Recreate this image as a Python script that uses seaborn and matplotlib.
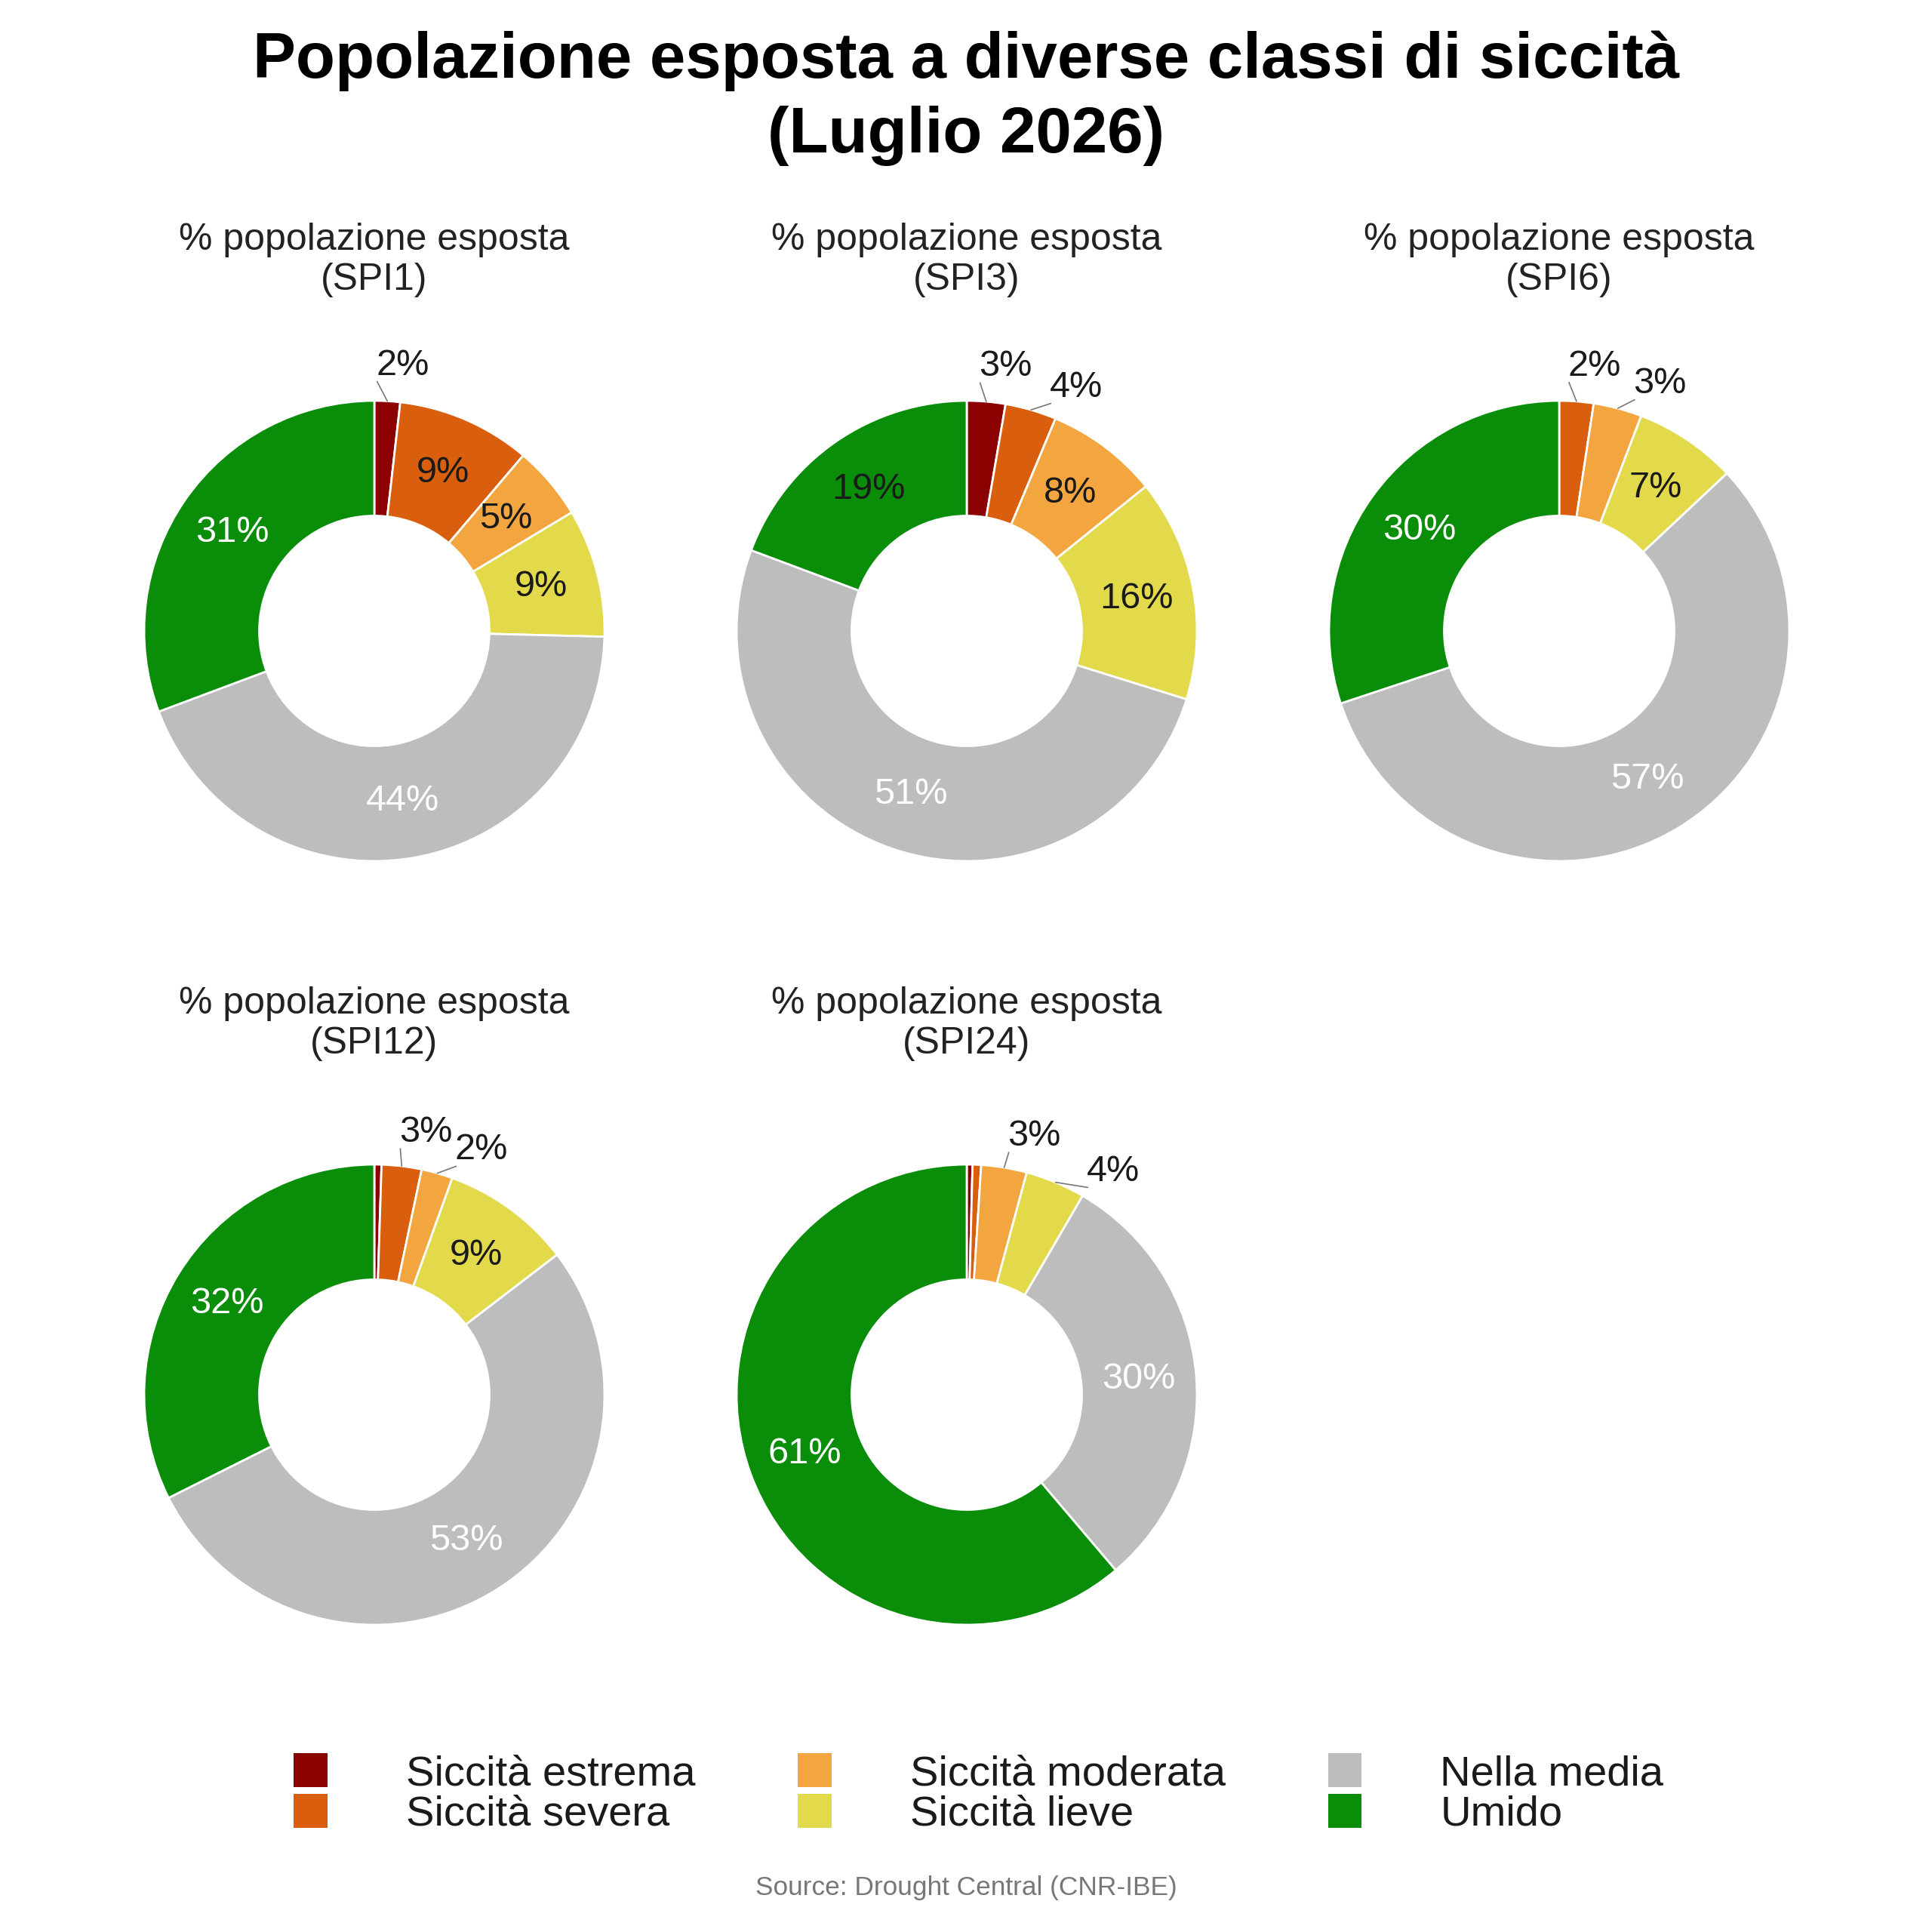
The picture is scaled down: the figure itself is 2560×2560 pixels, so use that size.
import numpy as np
import matplotlib
matplotlib.use("Agg")
import matplotlib.pyplot as plt
import seaborn as sns
from matplotlib.patches import Patch

# Classes and colours
classes = ["Siccità estrema", "Siccità severa", "Siccità moderata",
           "Siccità lieve", "Nella media", "Umido"]
class_colors = ["#8b0000", "#d95f0e", "#f3a640", "#e3da4b", "#bdbdbd", "#0a8e0a"]

# % population exposed per index (same order as classes)
spi_names = ["SPI1", "SPI3", "SPI6", "SPI12", "SPI24"]
spi1 = [1.8, 9.4, 5.2, 9.0, 43.9, 30.7]
spi3 = [2.7, 3.6, 7.9, 15.6, 50.9, 19.3]
spi6 = [0.0, 2.4, 3.4, 7.2, 56.9, 30.1]
spi12 = [0.5, 2.8, 2.2, 9.1, 53.0, 32.4]
spi24 = [0.4, 0.6, 3.2, 4.2, 30.4, 61.2]
spi_values = [spi1, spi3, spi6, spi12, spi24]

sns.set_theme(style="white")
plt.rcParams["font.family"] = ["Liberation Sans", "DejaVu Sans"]

fig = plt.figure(figsize=(12.8, 12.8), dpi=200)

# panel centres in pixels (x, y from top)
centres = [(496, 836), (1281, 836), (2066, 836), (496, 1848), (1281, 1848)]
size = 793 / 2560

for name, vals, (cx, cy) in zip(spi_names, spi_values, centres):
    ax = fig.add_axes([cx / 2560 - size / 2, 1 - cy / 2560 - size / 2, size, size])
    wedges, _ = ax.pie(vals, colors=class_colors, startangle=90, counterclock=False,
                       wedgeprops=dict(width=0.5, edgecolor="white", linewidth=1.0))
    for w, v in zip(wedges, vals):
        if v < 1:
            continue
        mid = (w.theta1 + w.theta2) / 2
        ang = np.deg2rad(mid)
        x, y = np.cos(ang), np.sin(ang)
        txt = f"{v:.0f}%"
        if v >= 5:
            col = "white" if v >= 20 else "#1a1a1a"
            ax.text(0.75 * x, 0.75 * y, txt, ha="center", va="center",
                    fontsize=17.5, color=col)
        else:
            # small slices: label outside, pushed clockwise like a repel layout
            off = 90 - mid            # clockwise angle from the top
            lab = np.deg2rad(90 - (off * 1.4 + 1.5))
            tx, ty = 1.16 * np.cos(lab), 1.16 * np.sin(lab)
            ax.plot([x, tx - 0.11], [y, ty - 0.07], color="#777777", lw=0.6)
            ax.text(tx, ty, txt, ha="center", va="center",
                    fontsize=17.5, color="#1a1a1a")
    ax.set_xlim(-1.3, 1.3)
    ax.set_ylim(-1.3, 1.3)
    ax.set_title(f"% popolazione esposta\n({name})", fontsize=18,
                 color="#222222", pad=20)

fig.suptitle("Popolazione esposta a diverse classi di siccità\n(Luglio 2026)",
             fontsize=30.7, fontweight="bold", y=0.984, va="top",
             color="black", linespacing=1.3)

handles = [Patch(facecolor=c, edgecolor="none") for c in class_colors]
fig.legend(handles, classes, loc="center", bbox_to_anchor=(0.5065, 1 - 2377 / 2560),
           ncol=3, frameon=False, fontsize=20.2, handlelength=0.8, handleheight=0.85,
           handletextpad=1.85, columnspacing=2.42, labelspacing=0.0,
           labelcolor="#1a1a1a")

fig.text(0.5, 1 - 2502 / 2560, "Source: Drought Central (CNR-IBE)",
         ha="center", va="center", fontsize=12.7, color="#777777")

fig.savefig("out.png", dpi=200, facecolor="white")
